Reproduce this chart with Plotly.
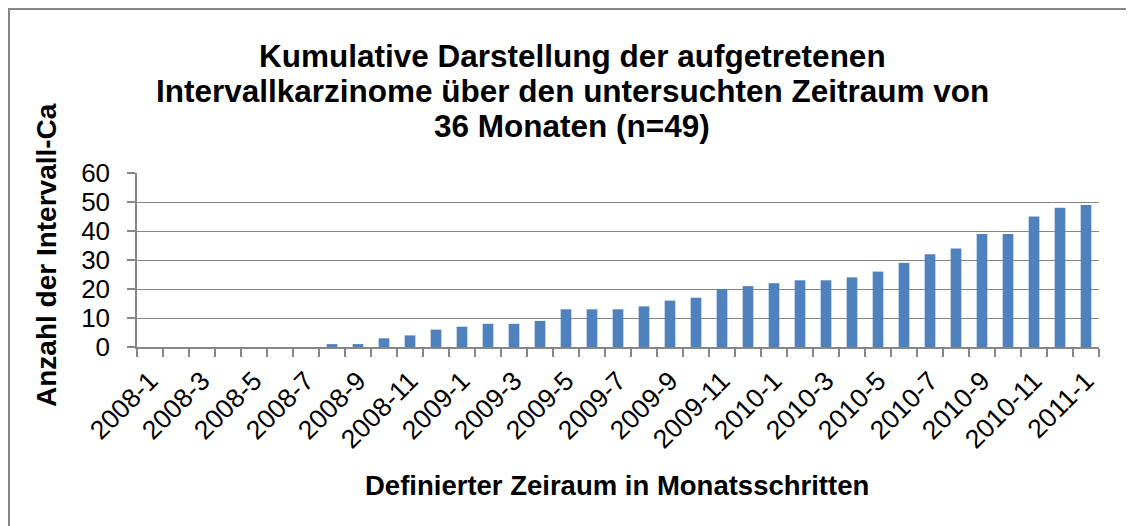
import plotly.graph_objects as go

months = [f"{y}-{m}" for y in (2008, 2009, 2010) for m in range(1, 13)] + ["2011-1"]
values = [0, 0, 0, 0, 0, 0, 0, 1, 1, 3, 4, 6, 7, 8, 8, 9, 13, 13,
          13, 14, 16, 17, 20, 21, 22, 23, 23, 24, 26, 29, 32, 34, 39, 39, 45, 48, 49]
tick_labels = [m if i % 2 == 0 else "" for i, m in enumerate(months)]

title_lines = ["Kumulative Darstellung der aufgetretenen",
               "Intervallkarzinome über den untersuchten Zeitraum von",
               "36 Monaten (n=49)"]
y_title = "Anzahl der Intervall-Ca"
x_title = "Definierter Zeiraum in Monatsschritten"

# figure sits 8px inside the page (body margin)
W, H = 1134, 526
L, R, T, B = 129, 43, 165, 187
pw, ph = W - L - R, H - T - B
grey = "#868686"
font = "Liberation Sans, Arial, sans-serif"

def px_x(x):
    return (x - L) / pw

def px_y(y):
    return (H - B - y) / ph

fig = go.Figure(go.Bar(x=months, y=values, marker=dict(color="#4F81BD", line=dict(width=0))))

annotations = []
for i, line in enumerate(title_lines):
    annotations.append(dict(text=line, xref="paper", yref="paper",
                            x=px_x(564), y=px_y(48 + 35 * i), xanchor="center", yanchor="middle",
                            showarrow=False,
                            font=dict(family=font, size=31.5, color="black", weight="bold")))
annotations += [
    dict(text=y_title, textangle=-90, xref="paper", yref="paper",
         x=px_x(38), y=px_y(247), xanchor="center", yanchor="middle", showarrow=False,
         font=dict(family=font, size=28, color="black", weight="bold")),
    dict(text=x_title, xref="paper", yref="paper",
         x=px_x(609), y=px_y(477), xanchor="center", yanchor="middle", showarrow=False,
         font=dict(family=font, size=27.5, color="black", weight="bold")),
]

fig.update_layout(
    width=W, height=H,
    margin=dict(l=L, r=R, t=T, b=B),
    paper_bgcolor="white", plot_bgcolor="white",
    bargap=0.59,
    showlegend=False,
    font=dict(family=font, color="black", size=26),
    xaxis=dict(type="category", tickmode="array", tickvals=months, ticktext=tick_labels,
               tickson="boundaries", ticks="outside", ticklen=8, tickcolor=grey, tickwidth=1.5,
               tickangle=-45, showline=True, linecolor=grey, linewidth=1.5,
               showgrid=False, ticklabelstandoff=6, automargin=False,
               tickfont=dict(size=26.5, family=font, color="black")),
    yaxis=dict(range=[0, 60], dtick=10, ticks="outside", ticklen=8, tickcolor=grey, tickwidth=1.5,
               showline=True, linecolor=grey, linewidth=1.5, showgrid=True, gridcolor=grey,
               gridwidth=1.2, zeroline=False, ticklabelstandoff=12, automargin=False,
               tickfont=dict(size=26, family=font, color="black")),
    annotations=annotations,
    shapes=[
        dict(type="line", xref="paper", yref="paper",
             x0=px_x(0), x1=px_x(W), y0=px_y(1), y1=px_y(1),
             line=dict(color=grey, width=2), layer="below"),
        dict(type="line", xref="paper", yref="paper",
             x0=px_x(1), x1=px_x(1), y0=px_y(0), y1=px_y(H),
             line=dict(color=grey, width=2), layer="below"),
    ],
)

fig.write_html("out.html")
